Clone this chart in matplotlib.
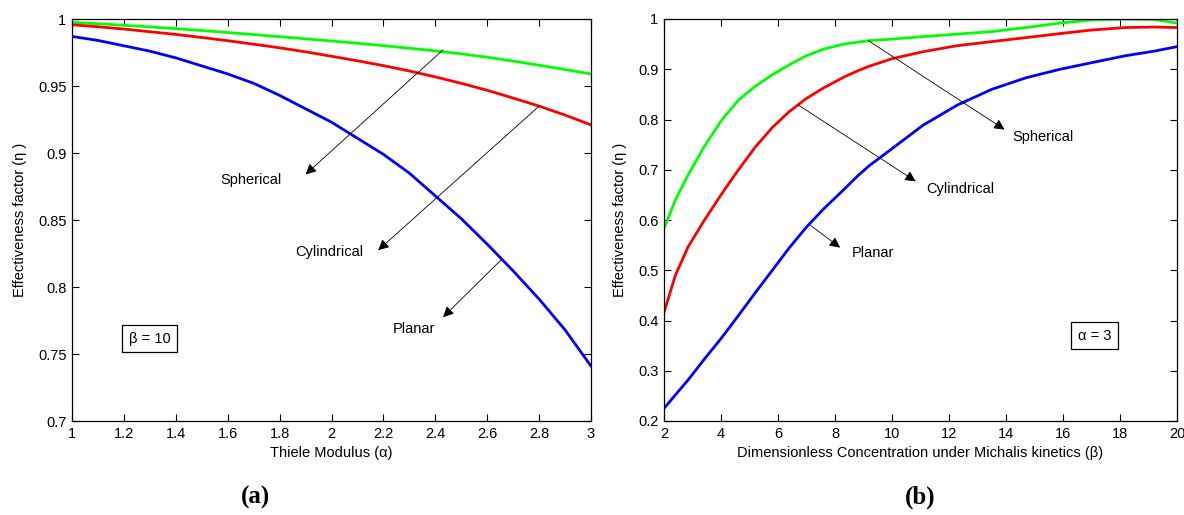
import matplotlib
matplotlib.use("Agg")
import matplotlib.pyplot as plt

plt.rcParams['font.family'] = ['Liberation Sans', 'DejaVu Sans']

# Panel (a): effectiveness factor vs Thiele modulus (beta = 10)
alpha = [1.0, 1.1, 1.2, 1.3, 1.4, 1.5, 1.6, 1.7, 1.8, 1.9, 2.0,
         2.1, 2.2, 2.3, 2.4, 2.5, 2.6, 2.7, 2.8, 2.9, 3.0]
eta_a_spherical = [0.9975, 0.9965, 0.9953, 0.9941, 0.9928, 0.9914, 0.9899, 0.9884, 0.9868, 0.9852, 0.9836,
                   0.9819, 0.9801, 0.9782, 0.9762, 0.9740, 0.9715, 0.9686, 0.9655, 0.9623, 0.959]
eta_a_cylindrical = [0.9957, 0.9942, 0.9925, 0.9905, 0.9885, 0.9862, 0.9838, 0.9812, 0.9785, 0.9755, 0.9722,
                     0.9688, 0.9652, 0.9612, 0.9568, 0.952, 0.9468, 0.941, 0.935, 0.9283, 0.921]
eta_a_planar = [0.987, 0.984, 0.980, 0.976, 0.971, 0.965, 0.959, 0.952, 0.943, 0.933, 0.923,
                0.911, 0.899, 0.885, 0.868, 0.851, 0.832, 0.812, 0.791, 0.768, 0.741]

# Panel (b): effectiveness factor vs beta (alpha = 3)
beta = [2, 2.4, 2.85, 3.4, 4.0, 4.6, 5.2, 5.8, 6.4, 7.0, 7.6, 8.3, 8.8, 9.2, 10,
        11.1, 12.3, 13.5, 14.7, 15.9, 17, 18.2, 19.2, 20]
eta_b_spherical = [0.583, 0.640, 0.690, 0.745, 0.797, 0.838, 0.866, 0.889, 0.909, 0.927, 0.940,
                   0.950, 0.954, 0.957, 0.960, 0.965, 0.970, 0.975, 0.983, 0.992, 0.998,
                   1.000, 0.999, 0.992]
eta_b_cylindrical = [0.416, 0.490, 0.547, 0.598, 0.650, 0.699, 0.745, 0.784, 0.816, 0.842, 0.863,
                     0.884, 0.897, 0.906, 0.921, 0.935, 0.947, 0.955, 0.963, 0.971, 0.978,
                     0.983, 0.984, 0.983]
eta_b_planar = [0.225, 0.252, 0.282, 0.322, 0.364, 0.409, 0.455, 0.500, 0.545, 0.586, 0.622,
                0.660, 0.688, 0.708, 0.742, 0.789, 0.829, 0.860, 0.883, 0.900, 0.913,
                0.927, 0.936, 0.945]

xticks_a = [1, 1.2, 1.4, 1.6, 1.8, 2, 2.2, 2.4, 2.6, 2.8, 3]
xticklabels_a = ['1', '1.2', '1.4', '1.6', '1.8', '2', '2.2', '2.4', '2.6', '2.8', '3']
yticks_a = [0.7, 0.75, 0.8, 0.85, 0.9, 0.95, 1.0]
yticklabels_a = ['0.7', '0.75', '0.8', '0.85', '0.9', '0.95', '1']
xticks_b = [2, 4, 6, 8, 10, 12, 14, 16, 18, 20]
xticklabels_b = [str(v) for v in xticks_b]
yticks_b = [0.2, 0.3, 0.4, 0.5, 0.6, 0.7, 0.8, 0.9, 1.0]
yticklabels_b = ['0.2', '0.3', '0.4', '0.5', '0.6', '0.7', '0.8', '0.9', '1']

W, H = 1184, 515
fig = plt.figure(figsize=(W / 100, H / 100), dpi=100)
ax1 = fig.add_axes([72 / W, 1 - 421 / H, (591 - 72) / W, (421 - 19) / H])
ax2 = fig.add_axes([664 / W, 1 - 421 / H, (1177 - 664) / W, (421 - 19) / H])

GREEN = (0, 1, 0)
RED = (1, 0, 0)
BLUE = (0, 0, 1)
LW = 2.0
FS = 10.5

ax1.plot(alpha, eta_a_spherical, color=GREEN, lw=LW)
ax1.plot(alpha, eta_a_cylindrical, color=RED, lw=LW)
ax1.plot(alpha, eta_a_planar, color=BLUE, lw=LW)
ax1.set_xlim(1, 3)
ax1.set_ylim(0.7, 1.0)

ax2.plot(beta, eta_b_spherical, color=GREEN, lw=LW)
ax2.plot(beta, eta_b_cylindrical, color=RED, lw=LW)
ax2.plot(beta, eta_b_planar, color=BLUE, lw=LW)
ax2.set_xlim(2, 20)
ax2.set_ylim(0.2, 1.0)

for ax, xt, xl, yt, yl in [(ax1, xticks_a, xticklabels_a, yticks_a, yticklabels_a),
                           (ax2, xticks_b, xticklabels_b, yticks_b, yticklabels_b)]:
    ax.set_xticks(xt)
    ax.set_xticklabels(xl)
    ax.set_yticks(yt)
    ax.set_yticklabels(yl)
    ax.tick_params(direction='in', top=True, right=True, length=5, width=0.8,
                   labelsize=FS, pad=4, colors='k')
    for s in ax.spines.values():
        s.set_linewidth(0.9)
    ax.set_ylabel('Effectiveness factor (η )', fontsize=FS, labelpad=8)

ax1.set_xlabel('Thiele Modulus (α)', fontsize=FS, labelpad=4)
ax2.set_xlabel('Dimensionless Concentration under Michalis kinetics (β)', fontsize=FS, labelpad=4)

arrow = dict(arrowstyle='-|>', color='k', lw=0.6, mutation_scale=16,
             shrinkA=0, shrinkB=0)

# Panel (a) annotations
ax1.annotate('', xy=(1.90, 0.884), xytext=(2.43, 0.977), arrowprops=arrow)
ax1.text(1.69, 0.8795, 'Spherical', fontsize=FS, ha='center', va='center')
ax1.annotate('', xy=(2.18, 0.8275), xytext=(2.80, 0.935), arrowprops=arrow)
ax1.text(1.99, 0.826, 'Cylindrical', fontsize=FS, ha='center', va='center')
ax1.annotate('', xy=(2.43, 0.7775), xytext=(2.655, 0.8205), arrowprops=arrow)
ax1.text(2.316, 0.769, 'Planar', fontsize=FS, ha='center', va='center')
ax1.text(1.30, 0.7615, 'β = 10', fontsize=FS, ha='center', va='center',
         bbox=dict(boxstyle='square,pad=0.45', fc='white', ec='k', lw=0.9))

# Panel (b) annotations
ax2.annotate('', xy=(13.95, 0.78), xytext=(9.17, 0.957), arrowprops=arrow)
ax2.text(15.3, 0.766, 'Spherical', fontsize=FS, ha='center', va='center')
ax2.annotate('', xy=(10.83, 0.677), xytext=(6.71, 0.829), arrowprops=arrow)
ax2.text(12.4, 0.662, 'Cylindrical', fontsize=FS, ha='center', va='center')
ax2.annotate('', xy=(8.18, 0.545), xytext=(7.15, 0.589), arrowprops=arrow)
ax2.text(9.34, 0.534, 'Planar', fontsize=FS, ha='center', va='center')
ax2.text(17.1, 0.37, 'α = 3', fontsize=FS, ha='center', va='center',
         bbox=dict(boxstyle='square,pad=0.45', fc='white', ec='k', lw=0.9))

fig.text(255 / W, 1 - 497 / H, '(a)', fontsize=18, fontweight='bold',
         family=['Liberation Serif', 'DejaVu Serif'], ha='center', va='center')
fig.text(920 / W, 1 - 497 / H, '(b)', fontsize=18, fontweight='bold',
         family=['Liberation Serif', 'DejaVu Serif'], ha='center', va='center')

fig.savefig('out.png', dpi=100, facecolor='white')
